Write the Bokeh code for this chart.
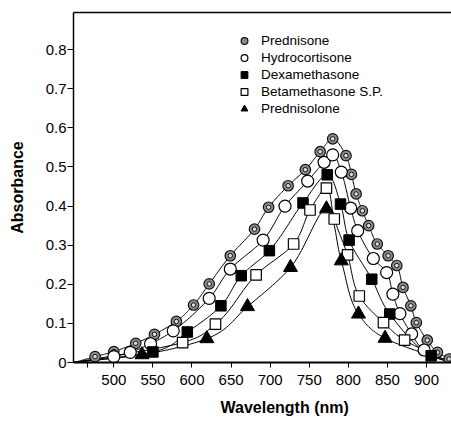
import numpy as np
from bokeh.plotting import figure
from bokeh.models import (Range1d, FixedTicker, LinearAxis, Legend, LegendItem, Title)
from bokeh.embed import file_html
from bokeh.resources import INLINE

# ---- data ----
pred_x = [476, 500, 528, 552, 580, 602, 622, 649, 680, 698, 723, 745, 764, 780,
          797, 804, 810, 818, 826, 837, 851, 862, 870, 880, 887, 901, 914, 929]
pred_y = [0.015, 0.028, 0.049, 0.072, 0.105, 0.147, 0.201, 0.273, 0.341, 0.397, 0.452, 0.493, 0.539, 0.572,
          0.529, 0.481, 0.431, 0.388, 0.350, 0.303, 0.273, 0.248, 0.192, 0.145, 0.102, 0.057, 0.026, 0.009]

hydro_x = [500, 521, 547, 576, 622, 649, 691, 719, 748, 769, 780,
           791, 803, 812, 832, 849, 857, 866, 881, 897]
hydro_y = [0.015, 0.026, 0.048, 0.081, 0.164, 0.239, 0.313, 0.400, 0.464, 0.512, 0.531,
           0.487, 0.395, 0.337, 0.266, 0.230, 0.175, 0.125, 0.073, 0.032]

dexa_x = [550, 594, 637, 663, 699, 742, 773, 790, 801, 830, 853, 906]
dexa_y = [0.027, 0.078, 0.145, 0.222, 0.286, 0.408, 0.480, 0.405, 0.313, 0.213, 0.124, 0.017]

beta_x = [588, 630, 682, 730, 751, 772, 782, 799, 814, 845, 872]
beta_y = [0.051, 0.098, 0.224, 0.303, 0.390, 0.446, 0.367, 0.275, 0.170, 0.102, 0.057]

predl_x = [536, 619, 671, 726, 772, 791, 813, 847]
predl_y = [0.020, 0.061, 0.143, 0.243, 0.393, 0.260, 0.124, 0.062]

curve_start = (449, 0.0)
curve_end = (931, 0.0)

x_ticks = [500, 550, 600, 650, 700, 750, 800, 850, 900]
axis_break = 466
y_ticks = [0, 0.1, 0.2, 0.3, 0.4, 0.5, 0.6, 0.7, 0.8]
y_tick_labels = ["0", "0.1", "0.2", "0.3", "0.4", "0.5", "0.6", "0.7", "0.8"]

names = ["Prednisone", "Hydrocortisone", "Dexamethasone", "Betamethasone S.P.", "Prednisolone"]

FONT = "Liberation Sans"


def smooth(xs, ys, n=16):
    """Centripetal Catmull-Rom through the given points (screen-scaled)."""
    sx, sy = 0.781, 3905.0
    P = np.column_stack([np.asarray(xs, float) * sx, np.asarray(ys, float) * sy])
    P = np.vstack([2 * P[0] - P[1], P, 2 * P[-1] - P[-2]])
    out = []
    for i in range(1, len(P) - 2):
        p0, p1, p2, p3 = P[i - 1], P[i], P[i + 1], P[i + 2]
        a = 0.5
        t0 = 0.0
        t1 = t0 + max(np.linalg.norm(p1 - p0), 1e-6) ** a
        t2 = t1 + max(np.linalg.norm(p2 - p1), 1e-6) ** a
        t3 = t2 + max(np.linalg.norm(p3 - p2), 1e-6) ** a
        for t in np.linspace(t1, t2, n, endpoint=False):
            A1 = (t1 - t) / (t1 - t0) * p0 + (t - t0) / (t1 - t0) * p1
            A2 = (t2 - t) / (t2 - t1) * p1 + (t - t1) / (t2 - t1) * p2
            A3 = (t3 - t) / (t3 - t2) * p2 + (t - t2) / (t3 - t2) * p3
            B1 = (t2 - t) / (t2 - t0) * A1 + (t - t0) / (t2 - t0) * A2
            B2 = (t3 - t) / (t3 - t1) * A2 + (t - t1) / (t3 - t1) * A3
            C = (t2 - t) / (t2 - t1) * B1 + (t - t1) / (t2 - t1) * B2
            out.append(C)
    out.append(P[-2])
    out = np.array(out)
    return out[:, 0] / sx, out[:, 1] / sy


p = figure(width=451, height=425, output_backend="svg", toolbar_location=None,
           x_range=Range1d(448.4, 932), y_range=Range1d(0, 0.895),
           min_border_left=73, min_border_right=0, min_border_top=12, min_border_bottom=63,
           background_fill_color="white", border_fill_color="white")
p.outline_line_color = None
p.grid.visible = False

# axes styling
p.xaxis.ticker = FixedTicker(ticks=[axis_break] + x_ticks)
p.xaxis.major_label_overrides = {axis_break: ""}
p.yaxis.ticker = FixedTicker(ticks=y_ticks)
p.yaxis.major_label_overrides = {t: s for t, s in zip(y_ticks, y_tick_labels)}
for ax in (p.xaxis, p.yaxis):
    ax.minor_tick_line_color = None
    ax.major_tick_in = 0
    ax.major_tick_out = 6
    ax.major_tick_line_color = "black"
    ax.major_tick_line_width = 1
    ax.axis_line_color = "black"
    ax.major_label_text_font = FONT
    ax.major_label_text_font_size = "15px"
    ax.major_label_text_color = "black"
    ax.axis_label_text_font = FONT
    ax.axis_label_text_font_style = "bold"
    ax.axis_label_text_font_size = "16px"
    ax.axis_label_text_color = "black"
p.xaxis.axis_line_width = 2
p.yaxis.axis_line_width = 1.5
p.xaxis.major_tick_out = 5
p.xaxis.major_label_standoff = 7
p.yaxis.major_label_standoff = 1
p.yaxis.axis_label = "Absorbance"
p.yaxis.axis_label_standoff = 17

top_axis = LinearAxis(ticker=FixedTicker(ticks=[]), axis_line_width=1.3, axis_line_color="black",
                      major_tick_line_color=None, minor_tick_line_color=None)
p.add_layout(top_axis, "above")

xtitle = Title(text="Wavelength (nm)", align="left", offset=147, standoff=18, text_font=FONT,
               text_font_style="bold", text_font_size="16px", text_color="black")
p.add_layout(xtitle, "below")

series = [(pred_x, pred_y), (hydro_x, hydro_y), (dexa_x, dexa_y), (beta_x, beta_y), (predl_x, predl_y)]
for xs, ys in series:
    lx, ly = smooth([curve_start[0]] + xs + [curve_end[0]], [curve_start[1]] + ys + [curve_end[1]])
    p.line(lx, ly, line_color="black", line_width=1)

r_pred_o = p.scatter(pred_x, pred_y, marker="circle", size=10.5, fill_color="#8c8c8c",
                     line_color="#111111", line_width=1.2)
r_pred_i = p.scatter(pred_x, pred_y, marker="circle", size=4.5, fill_color="#dcdcdc",
                     line_color="#111111", line_width=1)
r_hydro = p.scatter(hydro_x, hydro_y, marker="circle", size=12, fill_color="white",
                    line_color="black", line_width=1.2)
r_dexa = p.scatter(dexa_x, dexa_y, marker="square", size=10.5, fill_color="black",
                   line_color="black", line_width=1)
r_beta = p.scatter(beta_x, beta_y, marker="square", size=10.5, fill_color="white",
                   line_color="black", line_width=1.2)
r_predl = p.scatter(predl_x, predl_y, marker="triangle", size=14, fill_color="black",
                    line_color="black", line_width=1)

legend = Legend(items=[LegendItem(label=names[0], renderers=[r_pred_o]),
                       LegendItem(label=names[1], renderers=[r_hydro]),
                       LegendItem(label=names[2], renderers=[r_dexa]),
                       LegendItem(label=names[3], renderers=[r_beta]),
                       LegendItem(label=names[4], renderers=[r_predl])],
                location=(162, 245), border_line_color=None, background_fill_alpha=0,
                padding=0, margin=0, spacing=0, glyph_width=18, glyph_height=17,
                label_height=17, label_standoff=8, label_text_font=FONT,
                label_text_font_size="13.5px", label_text_color="black")
p.add_layout(legend)

open("out.html", "w").write(file_html(p, INLINE))
